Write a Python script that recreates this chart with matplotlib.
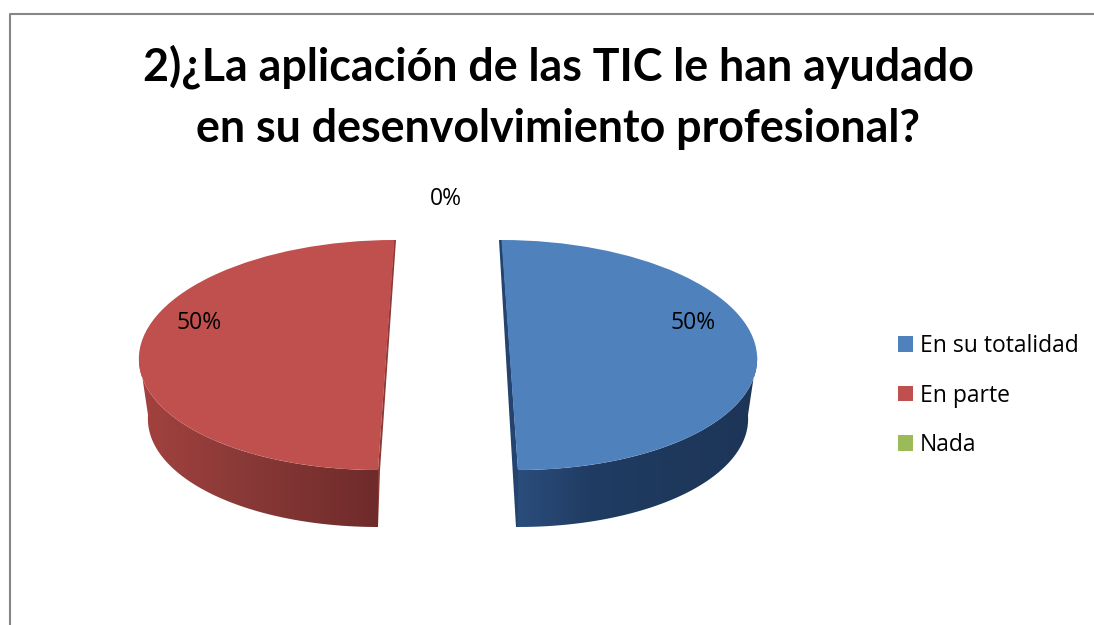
import numpy as np
import matplotlib
matplotlib.use('Agg')
import matplotlib.pyplot as plt
from matplotlib.transforms import Affine2D
from matplotlib.patches import Polygon

categories = ['En su totalidad', 'En parte', 'Nada']
values = [50, 50, 0]
colors = ['#4f81bd', '#c0504d', '#9bbb59']
title = '2)¿La aplicación de las TIC le han ayudado\nen su desenvolvimiento profesional?'

plt.rcParams['font.family'] = ['Open Sans', 'DejaVu Sans']

fig = plt.figure(figsize=(10.94, 6.25), dpi=100)
ax = fig.add_axes([0, 0, 1, 1])

wedges, _ = ax.pie(values, colors=colors, startangle=90, counterclock=False)
ax.set_aspect('auto')
ax.set_xlim(0, 1094)
ax.set_ylim(625, 0)


def place(cx, cy, rx, ry, shear):
    # unit pie -> picture, the shear gives the tilted cut of the 3d look
    return Affine2D.from_values(rx, 0, shear, -ry, cx, cy)


# one entry per visible slice: top ellipse, bottom ellipse, wall colours, cut face
looks = [
    dict(top=place(509.75, 355, 247.25, 115, -8.25),
         bottom=place(510, 415, 238, 112, -8),
         wall=['#2b4d7c', '#203c62', '#1d3557'], mid=0.3,
         cut='#24436e', cut_pts=[(499, 240), (502, 240), (518, 470), (518, 527), (516, 527)]),
    dict(top=place(386.25, 355, 247.25, 115, 8.25),
         bottom=place(386, 415, 238, 112, 8),
         wall=['#a4423f', '#8b3a38', '#6e2b2a'], mid=0.4,
         cut='#8a3a38', cut_pts=[(394, 240), (396, 240), (380, 470), (378, 527), (378, 470)]),
]

for wedge, look in zip(wedges, looks):
    wedge.set_transform(look['top'] + ax.transData)
    wedge.set_zorder(3)

    # the wall is the lower part of the rim of the slice
    t1, t2 = np.radians(wedge.theta1), np.radians(wedge.theta2)
    low = np.linspace(max(t1, -np.pi / 2), 0, 80) if np.cos((t1 + t2) / 2) > 0 \
        else np.linspace(-np.pi, -np.pi / 2, 80)
    unit = np.column_stack([np.cos(low), np.sin(low)])
    rim = np.vstack([look['top'].transform(unit), look['bottom'].transform(unit)[::-1]])
    poly = Polygon(rim, closed=True, transform=ax.transData, fc='none', ec='none')
    ax.add_patch(poly)

    x0, x1 = rim[:, 0].min(), rim[:, 0].max()
    rgb = np.array([matplotlib.colors.to_rgb(c) for c in look['wall']])
    pos = np.linspace(0, 1, 256)
    grad = np.stack([np.interp(pos, [0, look['mid'], 1], rgb[:, i]) for i in range(3)], axis=1)[None, :, :]
    im = ax.imshow(grad, extent=(x0, x1, rim[:, 1].max(), rim[:, 1].min()), aspect='auto', zorder=2)
    im.set_clip_path(poly)

    ax.add_patch(Polygon(look['cut_pts'], closed=True, fc=look['cut'], ec='none', zorder=2))

ax.set_xlim(0, 1094)
ax.set_ylim(625, 0)

# data labels
ax.text(693, 323, f'{values[0]}%', ha='center', va='center', fontsize=16.5, color='black', zorder=5)
ax.text(199, 323, f'{values[1]}%', ha='center', va='center', fontsize=16.5, color='black', zorder=5)
ax.text(446, 199, f'{values[2]}%', ha='center', va='center', fontsize=16.5, color='black', zorder=5)

ax.text(558, 97, title, ha='center', va='center', fontsize=32.2, fontweight='bold',
        family=['Lato', 'DejaVu Sans'], linespacing=1.57, color='black')

ax.legend(wedges, categories, loc='upper left', bbox_to_anchor=(889 / 1094, 1 - 325 / 625),
          bbox_transform=fig.transFigure, frameon=False, fontsize=16.5,
          handlelength=0.655, handleheight=0.655, handletextpad=0.3, labelspacing=1.11,
          borderpad=0.4, borderaxespad=0)

# chart frame, only top and left show in the crop
ax.plot([9.5, 9.5, 1094], [625, 13.5, 13.5], color='#868686', lw=1.5, zorder=1)

fig.savefig('out.png', dpi=100)
